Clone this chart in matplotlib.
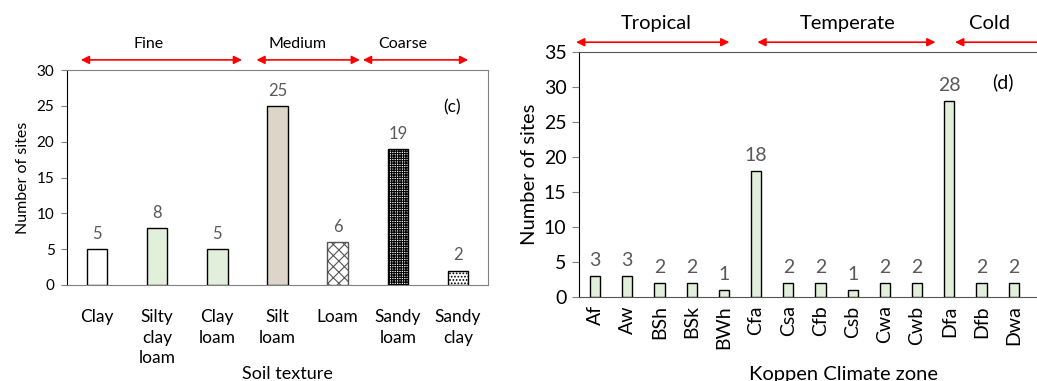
import matplotlib
matplotlib.use("Agg")
import matplotlib.pyplot as plt
import numpy as np

plt.rcParams['font.family'] = ['Lato', 'DejaVu Sans']
plt.rcParams['hatch.linewidth'] = 0.8

# Data
soil_labels = ["Clay", "Silty\nclay\nloam", "Clay\nloam", "Silt\nloam", "Loam", "Sandy\nloam", "Sandy\nclay"]
soil_values = [5, 8, 5, 25, 6, 19, 2]
soil_groups = ["Fine", "Medium", "Coarse"]

climate_labels = ["Af", "Aw", "BSh", "BSk", "BWh", "Cfa", "Csa", "Cfb", "Csb", "Cwa", "Cwb", "Dfa", "Dfb", "Dwa"]
climate_values = [3, 3, 2, 2, 1, 18, 2, 2, 1, 2, 2, 28, 2, 2]
climate_groups = ["Tropical", "Temperate", "Cold"]

W, H = 1037, 381
fig = plt.figure(figsize=(W/100, H/100), dpi=100)

def px_axes(x0, y0, x1, y1):
    return fig.add_axes([x0/W, 1 - y1/H, (x1-x0)/W, (y1-y0)/H])

gray = '#595959'
spine_gray = '#808080'
green = '#E2EFDA'

# ---------- Left panel ----------
ax1 = px_axes(67, 70, 488, 285)
soil_face = ['white', green, green, '#DDD6C8', 'white', 'white', 'white']
soil_hatch = [None, None, None, None, 'xxx', '+++++++', '.....']
xs = np.arange(len(soil_values))
bars = ax1.bar(xs, soil_values, width=0.34, color=soil_face, edgecolor='black', linewidth=1.0, zorder=3)
for b, h in zip(bars, soil_hatch):
    if h:
        b.set_hatch(h)
bars[4].set_edgecolor('#555555')
for x, v in zip(xs, soil_values):
    ax1.text(x, v + 1.0, str(v), ha='center', va='bottom', fontsize=12, color=gray)
ax1.set_xlim(-0.5, len(soil_values) - 0.5)
ax1.set_ylim(0, 30)
ax1.set_yticks(np.arange(0, 31, 5))
ax1.set_xticks(xs)
ax1.set_xticklabels(soil_labels, fontsize=12.5, linespacing=1.38)
ax1.tick_params(axis='x', length=0, pad=17)
ax1.tick_params(axis='y', length=4, color=spine_gray, labelsize=11, pad=5)
for s in ['top', 'right', 'bottom']:
    ax1.spines[s].set_color(spine_gray)
ax1.spines['left'].set_color('black')
ax1.set_ylabel("Number of sites", fontsize=11.5, labelpad=5)
ax1.set_xlabel("Soil texture", fontsize=13, labelpad=0)
ax1.xaxis.label.set_position(((287 - 67) / (488 - 67), 0))
ax1.text(452, H - 107, "(c)", transform=None, fontsize=12.5, ha='center', va='center')

arrow_kw = dict(arrowstyle='<|-|>', color='red', lw=1.2, mutation_scale=12,
                shrinkA=0, shrinkB=0)
def double_arrow(ax, a, b, yfrac):
    ax.annotate('', xy=(b, yfrac), xytext=(a, yfrac),
                xycoords=('data', 'axes fraction'),
                arrowprops=arrow_kw, annotation_clip=False)

left_spans = [(-0.27, 2.41), (2.65, 4.37), (4.42, 6.17)]
left_label_x = [0.85, 3.33, 5.09]
for (a, b), xl, name in zip(left_spans, left_label_x, soil_groups):
    double_arrow(ax1, a, b, 1.047)
    ax1.text(xl, 1.12, name, transform=ax1.get_xaxis_transform(), ha='center', va='center', fontsize=11.5)

# ---------- Right panel ----------
ax2 = px_axes(579, 52, 579 + 15 * 32.2, 297)
xs2 = np.arange(len(climate_values))
ax2.bar(xs2, climate_values, width=0.32, color=green, edgecolor='black', linewidth=1.0, zorder=3)
for x, v in zip(xs2, climate_values):
    ax2.text(x, v + 1.0, str(v), ha='center', va='bottom', fontsize=14, color=gray)
ax2.set_xlim(-0.5, 14.5)
ax2.set_ylim(0, 35)
ax2.set_yticks(np.arange(0, 36, 5))
ax2.set_xticks(xs2)
ax2.set_xticklabels(climate_labels, rotation=90, fontsize=14)
ax2.tick_params(axis='x', length=0, pad=6)
ax2.tick_params(axis='y', length=5, color=spine_gray, labelsize=14, pad=4)
for s in ['top', 'bottom']:
    ax2.spines[s].set_color('#555555')
ax2.spines['right'].set_visible(False)
ax2.spines['left'].set_color('black')
ax2.set_ylabel("Number of sites", fontsize=14.5, labelpad=4)
ax2.set_xlabel("Koppen Climate zone", fontsize=14.5, labelpad=12)
ax2.xaxis.label.set_position(((843 - 579) / (15 * 32.2), 0))
ax2.text(1003, H - 82, "(d)", transform=None, fontsize=14, ha='center', va='center')

right_spans = [(-0.59, 4.17), (5.04, 10.57), (11.18, 14.2)]
right_label_x = [1.89, 7.84, 12.25]
for (a, b), xl, name in zip(right_spans, right_label_x, climate_groups):
    double_arrow(ax2, a, b, 1.04)
    ax2.text(xl, 1.115, name, transform=ax2.get_xaxis_transform(), ha='center', va='center', fontsize=14.5)

fig.savefig("out.png", dpi=100)
